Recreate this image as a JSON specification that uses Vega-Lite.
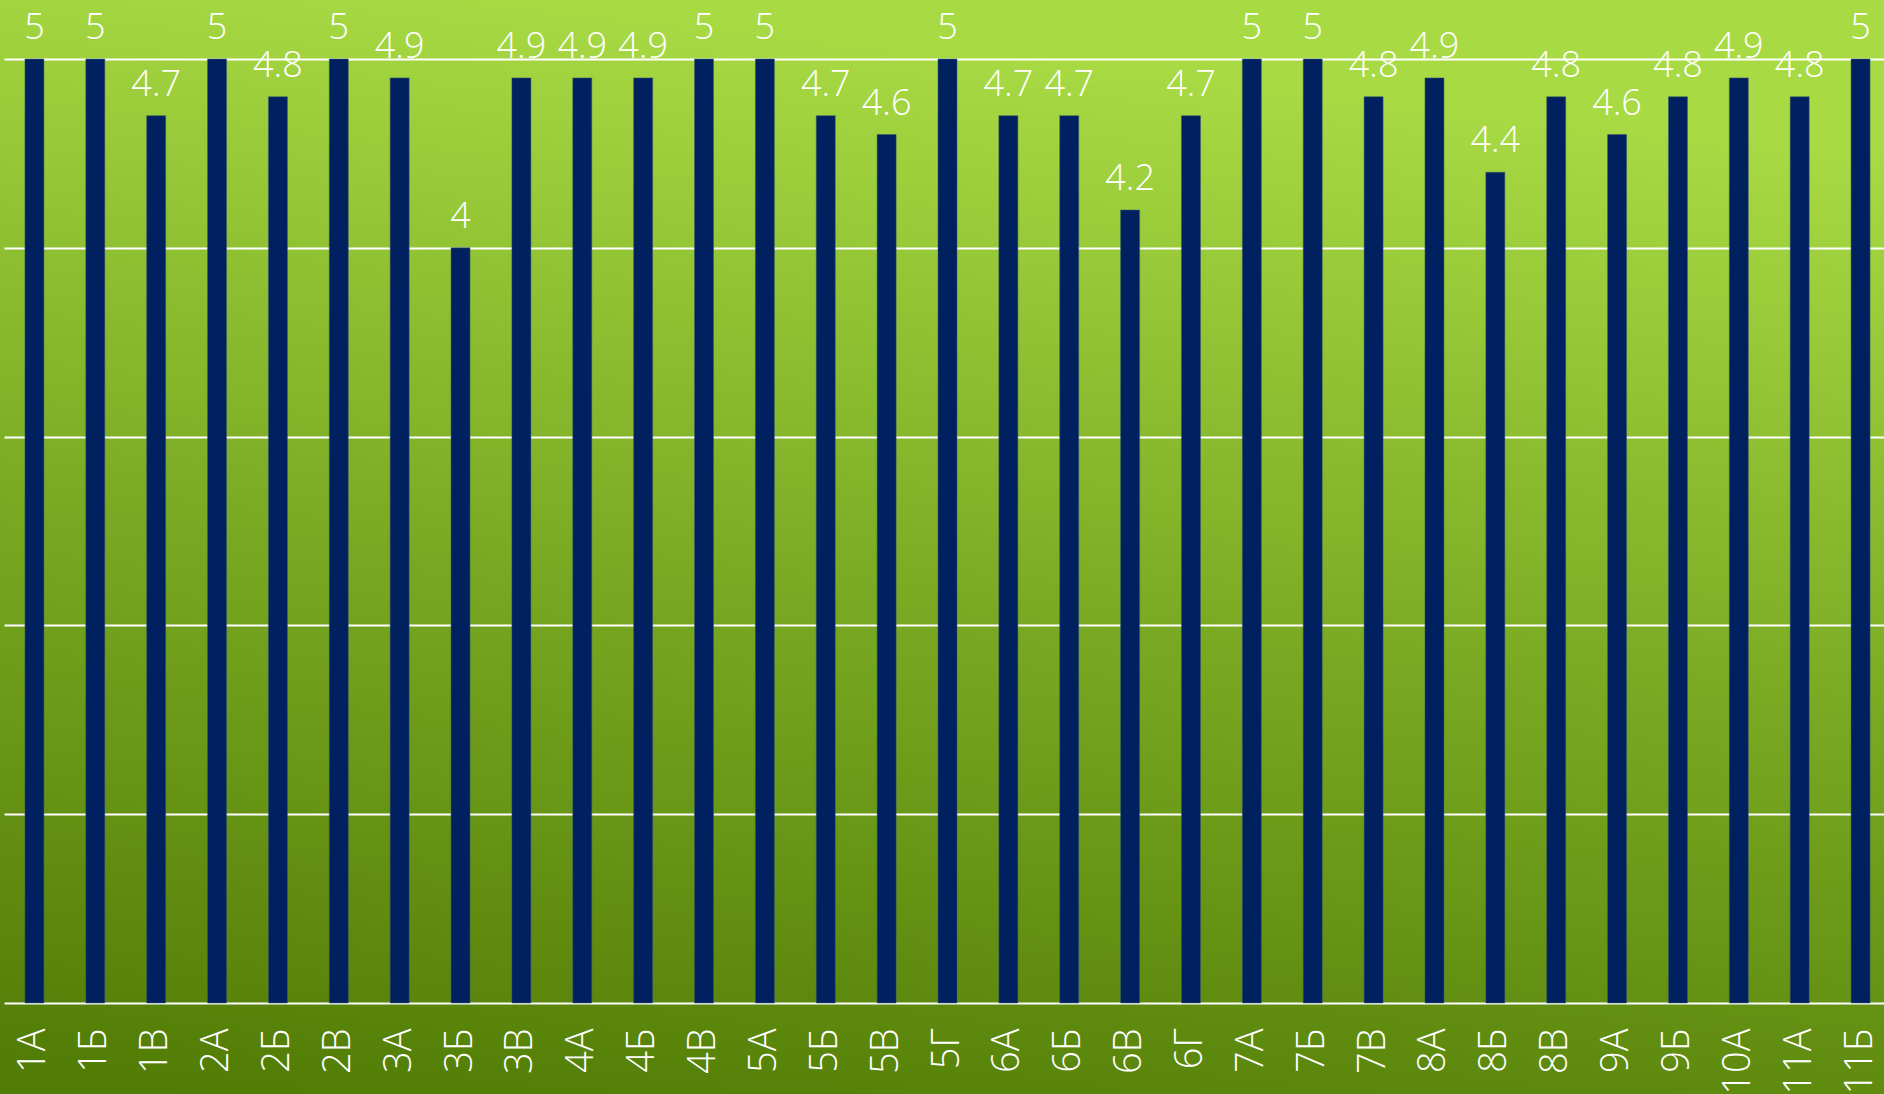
{
  "$schema": "https://vega.github.io/schema/vega-lite/v6.json",
  "width": 1884,
  "height": 1094,
  "autosize": {"type": "none"},
  "padding": 0,
  "background": "#547f08",
  "config": {
    "view": {
      "stroke": null,
      "fill": {
        "gradient": "linear",
        "x1": 0.1, "y1": 1, "x2": 0.3, "y2": 0,
        "stops": [
          {"offset": 0, "color": "#517c05"},
          {"offset": 0.5, "color": "#79a922"},
          {"offset": 1, "color": "#a8da44"}
        ]
      }
    },
    "font": "Open Sans"
  },
  "data": {
    "values": [
      {"class": "1А", "score": 5},
      {"class": "1Б", "score": 5},
      {"class": "1В", "score": 4.7},
      {"class": "2А", "score": 5},
      {"class": "2Б", "score": 4.8},
      {"class": "2В", "score": 5},
      {"class": "3А", "score": 4.9},
      {"class": "3Б", "score": 4},
      {"class": "3В", "score": 4.9},
      {"class": "4А", "score": 4.9},
      {"class": "4Б", "score": 4.9},
      {"class": "4В", "score": 5},
      {"class": "5А", "score": 5},
      {"class": "5Б", "score": 4.7},
      {"class": "5В", "score": 4.6},
      {"class": "5Г", "score": 5},
      {"class": "6А", "score": 4.7},
      {"class": "6Б", "score": 4.7},
      {"class": "6В", "score": 4.2},
      {"class": "6Г", "score": 4.7},
      {"class": "7А", "score": 5},
      {"class": "7Б", "score": 5},
      {"class": "7В", "score": 4.8},
      {"class": "8А", "score": 4.9},
      {"class": "8Б", "score": 4.4},
      {"class": "8В", "score": 4.8},
      {"class": "9А", "score": 4.6},
      {"class": "9Б", "score": 4.8},
      {"class": "10А", "score": 4.9},
      {"class": "11А", "score": 4.8},
      {"class": "11Б", "score": 5}
    ]
  },
  "encoding": {
    "x": {
      "field": "class",
      "type": "nominal",
      "sort": null,
      "scale": {"range": [4, 1891], "paddingInner": 0.688, "paddingOuter": 0.344},
      "axis": {
        "title": null,
        "orient": "bottom",
        "offset": -91,
        "domain": false,
        "ticks": false,
        "labelAngle": -90,
        "labelAlign": "right",
        "labelBaseline": "middle",
        "labelPadding": 25,
        "labelFont": "Open Sans",
        "labelFontSize": 38,
        "labelFontWeight": 300,
        "labelColor": "#ffffff",
        "labelOverlap": false,
        "labelLimit": 300
      }
    },
    "y": {
      "field": "score",
      "type": "quantitative",
      "scale": {"domain": [-0.482, 5.3125], "nice": false, "zero": false},
      "axis": {
        "title": null,
        "values": [0, 1, 2, 3, 4, 5],
        "labels": false,
        "ticks": false,
        "domain": false,
        "grid": true,
        "gridColor": "#ffffff",
        "gridWidth": 2,
        "gridOpacity": 1
      }
    }
  },
  "layer": [
    {
      "mark": {"type": "bar", "color": "#002060", "stroke": "#3a5a6a", "strokeWidth": 0.5}
    },
    {
      "mark": {
        "type": "text",
        "baseline": "alphabetic",
        "align": "center",
        "dy": -20,
        "font": "Open Sans",
        "fontSize": 36,
        "fontWeight": 300,
        "color": "#ffffff"
      },
      "encoding": {"text": {"field": "score", "type": "quantitative"}}
    }
  ]
}
